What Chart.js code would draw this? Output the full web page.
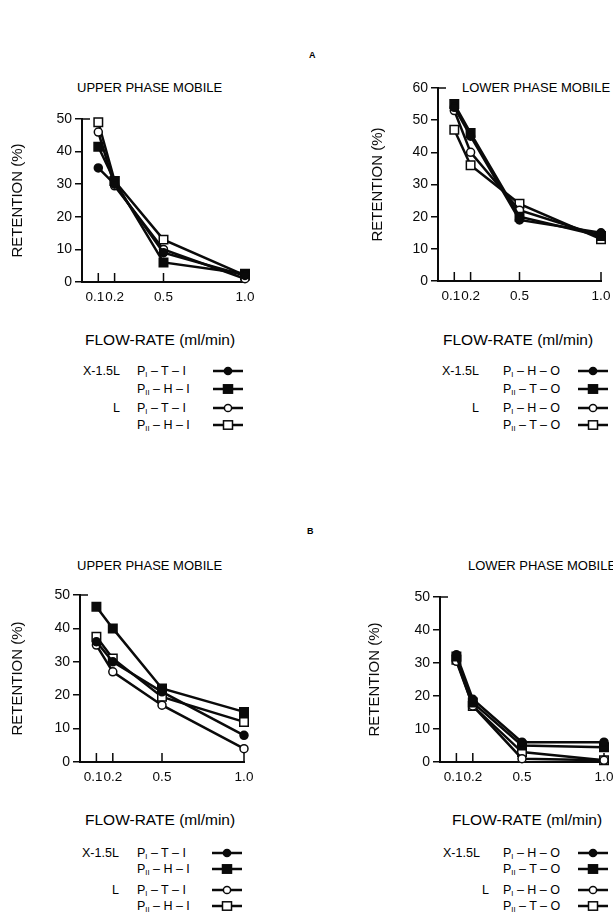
<!DOCTYPE html>
<html>
<head>
<meta charset="utf-8">
<script src="https://cdn.jsdelivr.net/npm/chart.js@4.4.1/dist/chart.umd.min.js"></script>
<style>
  body { margin: 0; background: #fff; }
  #page { position: relative; width: 613px; height: 912px; overflow: hidden;
          font-family: "Liberation Sans", Arial, sans-serif; color: #000; }
  .txt { position: absolute; white-space: nowrap; line-height: 16px; }
  .letter { font-size: 9px; font-weight: bold; }
  .title { font-size: 13px; }
  .xtitle { font-size: 15.5px; }
  .leg { font-size: 12.5px; }
  .leg sub { font-size: 7.5px; vertical-align: -2px; }
  canvas { position: absolute; }
  svg { position: absolute; }
</style>
</head>
<body>
<div id="page">
  <div class="txt letter" style="left:309px; top:47px;">A</div>
  <div class="txt letter" style="left:307px; top:523px;">B</div>

  <div class="txt title" style="left:77px; top:80px;">UPPER PHASE MOBILE</div>
  <div class="txt title" style="left:462px; top:80px;">LOWER PHASE MOBILE</div>
  <div class="txt title" style="left:77px; top:558px;">UPPER PHASE MOBILE</div>
  <div class="txt title" style="left:468px; top:558px;">LOWER PHASE MOBILE</div>

  <canvas id="aUpper" width="260" height="215" style="left:0px; top:100px;"></canvas>
  <canvas id="aLower" width="263" height="245" style="left:350px; top:70px;"></canvas>
  <canvas id="bUpper" width="260" height="215" style="left:0px; top:580px;"></canvas>
  <canvas id="bLower" width="263" height="215" style="left:350px; top:580px;"></canvas>

  <div class="txt xtitle" style="left:85px; top:332px;">FLOW-RATE (ml/min)</div>
  <div class="txt xtitle" style="left:443px; top:332px;">FLOW-RATE (ml/min)</div>
  <div class="txt xtitle" style="left:85px; top:812px;">FLOW-RATE (ml/min)</div>
  <div class="txt xtitle" style="left:452px; top:812px;">FLOW-RATE (ml/min)</div>

  <div id="legends"></div>
</div>

<script>
// flow-rate (ml/min) on the x axis
const flowRates = [0.1, 0.2, 0.5, 1.0];
const xTickLabels = ['0.1', '0.2', '0.5', '1.0'];

// A, upper phase mobile
const aUpper_X15L_PI_T_I = [35, 30, 9, 2];
const aUpper_X15L_PII_H_I = [41.5, 31, 6, 2.5];
const aUpper_L_PI_T_I = [46, 29.5, 10, 1];
const aUpper_L_PII_H_I = [49, 31, 13, 2];

// A, lower phase mobile
const aLower_X15L_PI_H_O = [54, 45, 19, 15];
const aLower_X15L_PII_T_O = [55, 46, 20, 14];
const aLower_L_PI_H_O = [53, 40, 22, 14];
const aLower_L_PII_T_O = [47, 36, 24, 13];

// B, upper phase mobile
const bUpper_X15L_PI_T_I = [36, 30, 21, 8];
const bUpper_X15L_PII_H_I = [46.5, 40, 22, 15];
const bUpper_L_PI_T_I = [35, 27, 17, 4];
const bUpper_L_PII_H_I = [37.5, 31, 19.5, 12];

// B, lower phase mobile
const bLower_X15L_PI_H_O = [32.5, 19, 6, 6];
const bLower_X15L_PII_T_O = [32, 18, 5, 4.5];
const bLower_L_PI_H_O = [30.5, 17, 1, 0.5];
const bLower_L_PII_T_O = [31, 17, 3, 0.5];

const groupLabels = ['X-1.5L', 'L'];
const upperNames = ['P<sub>I</sub> \u2013 T \u2013 I', 'P<sub>II</sub> \u2013 H \u2013 I'];
const lowerNames = ['P<sub>I</sub> \u2013 H \u2013 O', 'P<sub>II</sub> \u2013 T \u2013 O'];

const INK = '#0a0a0a';
// filled circle, filled square, open circle, open square
const markers = [
  { style: 'circle', radius: 4, fill: INK },
  { style: 'rect', radius: 6, fill: INK },
  { style: 'circle', radius: 4, fill: '#fff' },
  { style: 'rect', radius: 6, fill: '#fff' }
];

// inward ticks on the x axis and a small bracket at the top of the y axis
const innerTicks = {
  id: 'innerTicks',
  beforeDatasetsDraw(chart) {
    const { ctx, scales: { x, y } } = chart;
    ctx.save();
    ctx.strokeStyle = INK;
    ctx.lineWidth = 1.5;
    ctx.beginPath();
    flowRates.forEach(v => {
      const px = x.getPixelForValue(v);
      ctx.moveTo(px, y.bottom);
      ctx.lineTo(px, y.bottom - 9);
    });
    const top = y.getPixelForValue(y.max);
    ctx.moveTo(x.left, top);
    ctx.lineTo(x.left + 8, top);
    ctx.stroke();
    ctx.restore();
  }
};

const makePanel = (id, seriesList, yMax, box) => {
  const datasets = seriesList.map((values, i) => ({
    data: flowRates.map((x, j) => ({ x: x, y: values[j] })),
    borderColor: INK,
    borderWidth: 2.5,
    pointStyle: markers[i].style,
    pointRadius: markers[i].radius,
    pointBackgroundColor: markers[i].fill,
    pointBorderColor: INK,
    pointBorderWidth: 1.5,
    tension: 0,
    clip: false
  }));

  new Chart(document.getElementById(id), {
    type: 'line',
    data: { datasets: datasets },
    plugins: [innerTicks],
    options: {
      responsive: false,
      animation: false,
      layout: { padding: { top: box.top, right: box.right, left: 0, bottom: 0 } },
      plugins: { legend: { display: false }, tooltip: { enabled: false } },
      scales: {
        x: {
          type: 'linear',
          min: 0,
          max: 1.0,
          afterBuildTicks: (scale) => {
            scale.ticks = flowRates.map(v => ({ value: v }));
          },
          afterFit: (scale) => {
            scale.height = box.xHeight;
            scale.paddingLeft = 0;
            scale.paddingRight = 0;
          },
          ticks: {
            color: INK,
            font: { family: 'Liberation Sans', size: 13.5 },
            padding: 7,
            maxRotation: 0,
            autoSkip: false,
            // the first label sits a little left of its tick, as in the print
            callback: (value, index) => xTickLabels[index] + (index === 0 ? '\u2002' : '')
          },
          grid: { display: false, drawTicks: false },
          border: { display: true, color: INK, width: 2 }
        },
        y: {
          min: 0,
          max: yMax,
          afterFit: (scale) => {
            scale.width = box.yWidth;
            scale.paddingTop = 0;
            scale.paddingBottom = 0;
          },
          ticks: {
            stepSize: 10,
            color: INK,
            font: { family: 'Liberation Sans', size: 14 },
            padding: 3
          },
          grid: {
            display: true,
            drawOnChartArea: false,
            drawTicks: true,
            tickLength: 7,
            color: INK,
            lineWidth: 1.5
          },
          border: { display: true, color: INK, width: 2 },
          title: {
            display: true,
            text: 'RETENTION (%)',
            color: INK,
            font: { family: 'Liberation Sans', size: 15 },
            padding: { top: box.titlePad, bottom: 0 }
          }
        }
      }
    }
  });
};

makePanel('aUpper',
  [aUpper_X15L_PI_T_I, aUpper_X15L_PII_H_I, aUpper_L_PI_T_I, aUpper_L_PII_H_I],
  50, { top: 19, right: 15, xHeight: 33, yWidth: 82, titlePad: 9 });
makePanel('aLower',
  [aLower_X15L_PI_H_O, aLower_X15L_PII_T_O, aLower_L_PI_H_O, aLower_L_PII_T_O],
  60, { top: 18, right: 12, xHeight: 34, yWidth: 88, titlePad: 19 });
makePanel('bUpper',
  [bUpper_X15L_PI_T_I, bUpper_X15L_PII_H_I, bUpper_L_PI_T_I, bUpper_L_PII_H_I],
  50, { top: 15, right: 16, xHeight: 33, yWidth: 80, titlePad: 9 });
makePanel('bLower',
  [bLower_X15L_PI_H_O, bLower_X15L_PII_T_O, bLower_L_PI_H_O, bLower_L_PII_T_O],
  50, { top: 17, right: 9, xHeight: 33, yWidth: 90, titlePad: 16 });

// legends under each panel
const markerSvg = (m) => {
  const shape = m.style === 'circle'
    ? `<circle cx="15" cy="5" r="3.6" fill="${m.fill}" stroke="${INK}" stroke-width="1.5"/>`
    : `<rect x="10.5" y="0.8" width="9" height="8.4" fill="${m.fill}" stroke="${INK}" stroke-width="1.5"/>`;
  return `<line x1="0" y1="5" x2="30" y2="5" stroke="${INK}" stroke-width="2.5"/>` + shape;
};

const addLegend = (names, pos) => {
  const host = document.getElementById('legends');
  let html = '';
  groupLabels.forEach((g, gi) => {
    html += `<div class="txt leg" style="left:${pos.groupX[gi]}px; top:${pos.rows[gi * 2] - 8}px;">${g}</div>`;
  });
  pos.rows.forEach((rowY, i) => {
    html += `<div class="txt leg" style="left:${pos.nameX}px; top:${rowY - 8}px;">${names[i % 2]}</div>`;
    html += `<svg width="31" height="10" style="left:${pos.markX}px; top:${rowY - 5}px;">${markerSvg(markers[i])}</svg>`;
  });
  host.insertAdjacentHTML('beforeend', html);
};

addLegend(upperNames, { groupX: [83, 113], nameX: 137, markX: 213, rows: [371, 389, 408, 425] });
addLegend(lowerNames, { groupX: [442, 472], nameX: 503, markX: 578, rows: [371, 389, 408, 425] });
addLegend(upperNames, { groupX: [82, 112], nameX: 137, markX: 212, rows: [853, 869, 890, 906] });
addLegend(lowerNames, { groupX: [443, 482], nameX: 503, markX: 578, rows: [853, 869, 890, 906] });
</script>
</body>
</html>
